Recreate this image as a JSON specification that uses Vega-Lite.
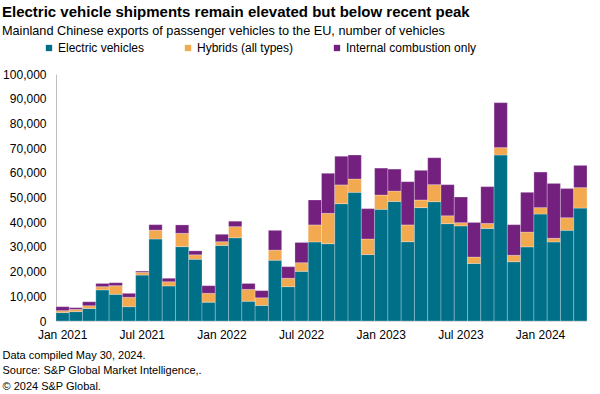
{
  "$schema": "https://vega.github.io/schema/vega-lite/v6.json",
  "width": 531,
  "height": 247,
  "autosize": {"type": "none"},
  "padding": {"left": 56, "top": 74, "right": 13, "bottom": 73},
  "background": "white",
  "config": {
    "font": "Liberation Sans",
    "view": {"stroke": null},
    "axis": {"labelFont": "Liberation Sans", "titleFont": "Liberation Sans"}
  },
  "title": {
    "text": "Electric vehicle shipments remain elevated but below recent peak",
    "subtitle": "Mainland Chinese exports of passenger vehicles to the EU, number of vehicles",
    "anchor": "start",
    "frame": "group",
    "dx": -54,
    "offset": 4,
    "fontSize": 15,
    "fontWeight": "bold",
    "color": "#000000",
    "subtitleFontSize": 12.7,
    "subtitleColor": "#000000",
    "subtitlePadding": 5,
    "font": "Liberation Sans",
    "subtitleFont": "Liberation Sans"
  },
  "data": {
    "values": [
      {"m":"Jan 2021","t":"Electric vehicles","v":3400},{"m":"Jan 2021","t":"Hybrids (all types)","v":800},{"m":"Jan 2021","t":"Internal combustion only","v":1600},
      {"m":"Feb 2021","t":"Electric vehicles","v":3800},{"m":"Feb 2021","t":"Hybrids (all types)","v":900},{"m":"Feb 2021","t":"Internal combustion only","v":700},
      {"m":"Mar 2021","t":"Electric vehicles","v":5100},{"m":"Mar 2021","t":"Hybrids (all types)","v":1100},{"m":"Mar 2021","t":"Internal combustion only","v":1600},
      {"m":"Apr 2021","t":"Electric vehicles","v":12600},{"m":"Apr 2021","t":"Hybrids (all types)","v":1300},{"m":"Apr 2021","t":"Internal combustion only","v":1300},
      {"m":"May 2021","t":"Electric vehicles","v":10800},{"m":"May 2021","t":"Hybrids (all types)","v":3500},{"m":"May 2021","t":"Internal combustion only","v":1200},
      {"m":"Jun 2021","t":"Electric vehicles","v":5800},{"m":"Jun 2021","t":"Hybrids (all types)","v":3800},{"m":"Jun 2021","t":"Internal combustion only","v":1600},
      {"m":"Jul 2021","t":"Electric vehicles","v":18600},{"m":"Jul 2021","t":"Hybrids (all types)","v":1100},{"m":"Jul 2021","t":"Internal combustion only","v":500},
      {"m":"Aug 2021","t":"Electric vehicles","v":33200},{"m":"Aug 2021","t":"Hybrids (all types)","v":3600},{"m":"Aug 2021","t":"Internal combustion only","v":2200},
      {"m":"Sep 2021","t":"Electric vehicles","v":14200},{"m":"Sep 2021","t":"Hybrids (all types)","v":1700},{"m":"Sep 2021","t":"Internal combustion only","v":1400},
      {"m":"Oct 2021","t":"Electric vehicles","v":30100},{"m":"Oct 2021","t":"Hybrids (all types)","v":5400},{"m":"Oct 2021","t":"Internal combustion only","v":3400},
      {"m":"Nov 2021","t":"Electric vehicles","v":25000},{"m":"Nov 2021","t":"Hybrids (all types)","v":1800},{"m":"Nov 2021","t":"Internal combustion only","v":1600},
      {"m":"Dec 2021","t":"Electric vehicles","v":7600},{"m":"Dec 2021","t":"Hybrids (all types)","v":3600},{"m":"Dec 2021","t":"Internal combustion only","v":3100},
      {"m":"Jan 2022","t":"Electric vehicles","v":30600},{"m":"Jan 2022","t":"Hybrids (all types)","v":1500},{"m":"Jan 2022","t":"Internal combustion only","v":3000},
      {"m":"Feb 2022","t":"Electric vehicles","v":33700},{"m":"Feb 2022","t":"Hybrids (all types)","v":4500},{"m":"Feb 2022","t":"Internal combustion only","v":2200},
      {"m":"Mar 2022","t":"Electric vehicles","v":8000},{"m":"Mar 2022","t":"Hybrids (all types)","v":4800},{"m":"Mar 2022","t":"Internal combustion only","v":2400},
      {"m":"Apr 2022","t":"Electric vehicles","v":6300},{"m":"Apr 2022","t":"Hybrids (all types)","v":3100},{"m":"Apr 2022","t":"Internal combustion only","v":2900},
      {"m":"May 2022","t":"Electric vehicles","v":24600},{"m":"May 2022","t":"Hybrids (all types)","v":4100},{"m":"May 2022","t":"Internal combustion only","v":8000},
      {"m":"Jun 2022","t":"Electric vehicles","v":13900},{"m":"Jun 2022","t":"Hybrids (all types)","v":3400},{"m":"Jun 2022","t":"Internal combustion only","v":4700},
      {"m":"Jul 2022","t":"Electric vehicles","v":20100},{"m":"Jul 2022","t":"Hybrids (all types)","v":3500},{"m":"Jul 2022","t":"Internal combustion only","v":8200},
      {"m":"Aug 2022","t":"Electric vehicles","v":32000},{"m":"Aug 2022","t":"Hybrids (all types)","v":6900},{"m":"Aug 2022","t":"Internal combustion only","v":10100},
      {"m":"Sep 2022","t":"Electric vehicles","v":31300},{"m":"Sep 2022","t":"Hybrids (all types)","v":12300},{"m":"Sep 2022","t":"Internal combustion only","v":16200},
      {"m":"Oct 2022","t":"Electric vehicles","v":47500},{"m":"Oct 2022","t":"Hybrids (all types)","v":7600},{"m":"Oct 2022","t":"Internal combustion only","v":11600},
      {"m":"Nov 2022","t":"Electric vehicles","v":52100},{"m":"Nov 2022","t":"Hybrids (all types)","v":5400},{"m":"Nov 2022","t":"Internal combustion only","v":9700},
      {"m":"Dec 2022","t":"Electric vehicles","v":26900},{"m":"Dec 2022","t":"Hybrids (all types)","v":6300},{"m":"Dec 2022","t":"Internal combustion only","v":12300},
      {"m":"Jan 2023","t":"Electric vehicles","v":45200},{"m":"Jan 2023","t":"Hybrids (all types)","v":5800},{"m":"Jan 2023","t":"Internal combustion only","v":10900},
      {"m":"Feb 2023","t":"Electric vehicles","v":48400},{"m":"Feb 2023","t":"Hybrids (all types)","v":4200},{"m":"Feb 2023","t":"Internal combustion only","v":8900},
      {"m":"Mar 2023","t":"Electric vehicles","v":32100},{"m":"Mar 2023","t":"Hybrids (all types)","v":6800},{"m":"Mar 2023","t":"Internal combustion only","v":17500},
      {"m":"Apr 2023","t":"Electric vehicles","v":45900},{"m":"Apr 2023","t":"Hybrids (all types)","v":3100},{"m":"Apr 2023","t":"Internal combustion only","v":12000},
      {"m":"May 2023","t":"Electric vehicles","v":48300},{"m":"May 2023","t":"Hybrids (all types)","v":6900},{"m":"May 2023","t":"Internal combustion only","v":10900},
      {"m":"Jun 2023","t":"Electric vehicles","v":39400},{"m":"Jun 2023","t":"Hybrids (all types)","v":3200},{"m":"Jun 2023","t":"Internal combustion only","v":12600},
      {"m":"Jul 2023","t":"Electric vehicles","v":38500},{"m":"Jul 2023","t":"Hybrids (all types)","v":1300},{"m":"Jul 2023","t":"Internal combustion only","v":10400},
      {"m":"Aug 2023","t":"Electric vehicles","v":23300},{"m":"Aug 2023","t":"Hybrids (all types)","v":2600},{"m":"Aug 2023","t":"Internal combustion only","v":14000},
      {"m":"Sep 2023","t":"Electric vehicles","v":37500},{"m":"Sep 2023","t":"Hybrids (all types)","v":2000},{"m":"Sep 2023","t":"Internal combustion only","v":14900},
      {"m":"Oct 2023","t":"Electric vehicles","v":67200},{"m":"Oct 2023","t":"Hybrids (all types)","v":3000},{"m":"Oct 2023","t":"Internal combustion only","v":18200},
      {"m":"Nov 2023","t":"Electric vehicles","v":24000},{"m":"Nov 2023","t":"Hybrids (all types)","v":2600},{"m":"Nov 2023","t":"Internal combustion only","v":12400},
      {"m":"Dec 2023","t":"Electric vehicles","v":30000},{"m":"Dec 2023","t":"Hybrids (all types)","v":6000},{"m":"Dec 2023","t":"Internal combustion only","v":16100},
      {"m":"Jan 2024","t":"Electric vehicles","v":43300},{"m":"Jan 2024","t":"Hybrids (all types)","v":2600},{"m":"Jan 2024","t":"Internal combustion only","v":14400},
      {"m":"Feb 2024","t":"Electric vehicles","v":32000},{"m":"Feb 2024","t":"Hybrids (all types)","v":1500},{"m":"Feb 2024","t":"Internal combustion only","v":22200},
      {"m":"Mar 2024","t":"Electric vehicles","v":36700},{"m":"Mar 2024","t":"Hybrids (all types)","v":5100},{"m":"Mar 2024","t":"Internal combustion only","v":11800},
      {"m":"Apr 2024","t":"Electric vehicles","v":45700},{"m":"Apr 2024","t":"Hybrids (all types)","v":8300},{"m":"Apr 2024","t":"Internal combustion only","v":9000}
    ]
  },
  "mark": {"type": "bar", "stroke": "#ffffff", "strokeWidth": 0.5, "strokeOpacity": 0.5},
  "encoding": {
    "x": {
      "field": "m",
      "type": "ordinal",
      "sort": null,
      "scale": {"paddingInner": 0, "paddingOuter": 0},
      "axis": {
        "labelExpr": "indexof(datum.label, 'Jan') == 0 || indexof(datum.label, 'Jul') == 0 ? datum.label : ''",
        "labelAngle": 0,
        "labelFontSize": 12,
        "labelColor": "#000000",
        "labelPadding": 8,
        "ticks": false,
        "domain": true,
        "domainColor": "#d9d9d9",
        "labelOverlap": false,
        "title": ["Data compiled May 30, 2024.", "Source: S&P Global Market Intelligence,.", "© 2024 S&P Global."],
        "titleFontSize": 11,
        "titleFontWeight": "normal",
        "titleColor": "#000000",
        "titleAnchor": "start",
        "titleAlign": "left",
        "titleBaseline": "top",
        "titleX": -54,
        "titleY": 28,
        "titleLineHeight": 15.5
      }
    },
    "y": {
      "field": "v",
      "type": "quantitative",
      "aggregate": "sum",
      "stack": "zero",
      "scale": {"domain": [0, 100000], "nice": false},
      "axis": {
        "values": [0, 10000, 20000, 30000, 40000, 50000, 60000, 70000, 80000, 90000, 100000],
        "format": ",.0f",
        "grid": false,
        "ticks": false,
        "domainColor": "#bfbfbf",
        "labelFontSize": 12,
        "labelColor": "#000000",
        "labelPadding": 10,
        "title": null
      }
    },
    "order": {"field": "t", "sort": "ascending"},
    "color": {
      "field": "t",
      "type": "nominal",
      "scale": {
        "domain": ["Electric vehicles", "Hybrids (all types)", "Internal combustion only"],
        "range": ["#006F88", "#F2A950", "#74207F"]
      },
      "legend": {
        "title": null,
        "orient": "none",
        "direction": "horizontal",
        "legendX": -13,
        "legendY": -32,
        "symbolType": "square",
        "symbolSize": 40,
        "symbolStrokeWidth": 0,
        "labelFontSize": 12,
        "labelColor": "#000000",
        "labelOffset": 3,
        "columnPadding": 37
      }
    }
  }
}
